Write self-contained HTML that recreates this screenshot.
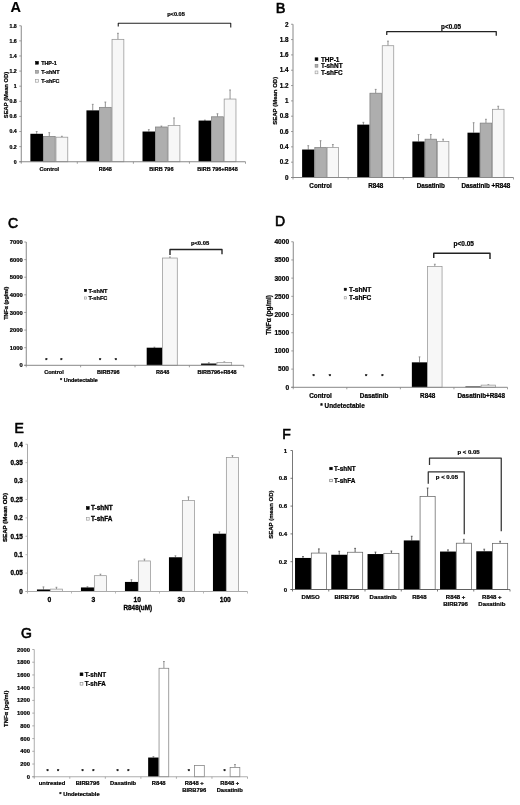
<!DOCTYPE html>
<html lang="en"><head><meta charset="utf-8"><title>Figure</title>
<style>html,body{margin:0;padding:0;background:#fff}svg{display:block;filter:blur(0.4px)}text{font-family:'Liberation Sans', Arial, sans-serif}</style></head><body>
<svg width="520" height="805" viewBox="0 0 520 805">
<rect width="520" height="805" fill="#fff"/>
<g id="panel-A">
<text x="10.50" y="12.00" font-size="14.5" text-anchor="start" font-weight="bold" fill="#000" stroke="#000" stroke-width="0.12">A</text>
<line x1="36.68" y1="133.79" x2="36.68" y2="131.53" stroke="#808080" stroke-width="0.85"/>
<line x1="35.78" y1="131.53" x2="37.58" y2="131.53" stroke="#808080" stroke-width="0.8"/>
<rect x="30.38" y="133.79" width="12.60" height="27.96" fill="#000"/>
<line x1="49.28" y1="136.44" x2="49.28" y2="132.66" stroke="#808080" stroke-width="0.85"/>
<line x1="48.38" y1="132.66" x2="50.18" y2="132.66" stroke="#808080" stroke-width="0.8"/>
<rect x="43.38" y="136.44" width="11.80" height="25.31" fill="#aeaeae" stroke="#808080" stroke-width="0.75"/>
<line x1="61.88" y1="137.19" x2="61.88" y2="136.29" stroke="#808080" stroke-width="0.85"/>
<line x1="60.98" y1="136.29" x2="62.78" y2="136.29" stroke="#808080" stroke-width="0.8"/>
<rect x="55.98" y="137.19" width="11.80" height="24.56" fill="#f7f7f7" stroke="#969696" stroke-width="0.75"/>
<text x="49.28" y="170.80" font-size="5.5" text-anchor="middle" font-weight="bold" fill="#000" stroke="#000" stroke-width="0.22">Control</text>
<line x1="92.74" y1="110.37" x2="92.74" y2="104.33" stroke="#808080" stroke-width="0.85"/>
<line x1="91.84" y1="104.33" x2="93.64" y2="104.33" stroke="#808080" stroke-width="0.8"/>
<rect x="86.44" y="110.37" width="12.60" height="51.38" fill="#000"/>
<line x1="105.34" y1="107.35" x2="105.34" y2="102.06" stroke="#808080" stroke-width="0.85"/>
<line x1="104.44" y1="102.06" x2="106.24" y2="102.06" stroke="#808080" stroke-width="0.8"/>
<rect x="99.44" y="107.35" width="11.80" height="54.40" fill="#aeaeae" stroke="#808080" stroke-width="0.75"/>
<line x1="117.94" y1="39.35" x2="117.94" y2="33.31" stroke="#808080" stroke-width="0.85"/>
<line x1="117.04" y1="33.31" x2="118.84" y2="33.31" stroke="#808080" stroke-width="0.8"/>
<rect x="112.04" y="39.35" width="11.80" height="122.40" fill="#f7f7f7" stroke="#969696" stroke-width="0.75"/>
<text x="105.34" y="170.80" font-size="5.5" text-anchor="middle" font-weight="bold" fill="#000" stroke="#000" stroke-width="0.22">R848</text>
<line x1="148.81" y1="131.53" x2="148.81" y2="129.64" stroke="#808080" stroke-width="0.85"/>
<line x1="147.91" y1="129.64" x2="149.71" y2="129.64" stroke="#808080" stroke-width="0.8"/>
<rect x="142.51" y="131.53" width="12.60" height="30.22" fill="#000"/>
<line x1="161.41" y1="126.99" x2="161.41" y2="126.09" stroke="#808080" stroke-width="0.85"/>
<line x1="160.51" y1="126.09" x2="162.31" y2="126.09" stroke="#808080" stroke-width="0.8"/>
<rect x="155.51" y="126.99" width="11.80" height="34.76" fill="#aeaeae" stroke="#808080" stroke-width="0.75"/>
<line x1="174.01" y1="125.48" x2="174.01" y2="117.93" stroke="#808080" stroke-width="0.85"/>
<line x1="173.11" y1="117.93" x2="174.91" y2="117.93" stroke="#808080" stroke-width="0.8"/>
<rect x="168.11" y="125.48" width="11.80" height="36.27" fill="#f7f7f7" stroke="#969696" stroke-width="0.75"/>
<text x="161.41" y="170.80" font-size="5.5" text-anchor="middle" font-weight="bold" fill="#000" stroke="#000" stroke-width="0.22">BIRB 796</text>
<line x1="204.87" y1="120.57" x2="204.87" y2="120.12" stroke="#808080" stroke-width="0.85"/>
<line x1="203.97" y1="120.12" x2="205.77" y2="120.12" stroke="#808080" stroke-width="0.8"/>
<rect x="198.57" y="120.57" width="12.60" height="41.18" fill="#000"/>
<line x1="217.47" y1="116.79" x2="217.47" y2="113.77" stroke="#808080" stroke-width="0.85"/>
<line x1="216.57" y1="113.77" x2="218.37" y2="113.77" stroke="#808080" stroke-width="0.8"/>
<rect x="211.57" y="116.79" width="11.80" height="44.96" fill="#aeaeae" stroke="#808080" stroke-width="0.75"/>
<line x1="230.07" y1="99.04" x2="230.07" y2="89.97" stroke="#808080" stroke-width="0.85"/>
<line x1="229.17" y1="89.97" x2="230.97" y2="89.97" stroke="#808080" stroke-width="0.8"/>
<rect x="224.17" y="99.04" width="11.80" height="62.71" fill="#f7f7f7" stroke="#969696" stroke-width="0.75"/>
<text x="217.47" y="170.80" font-size="5.5" text-anchor="middle" font-weight="bold" fill="#000" stroke="#000" stroke-width="0.22">BIRB 796+R848</text>
<line x1="21.25" y1="25.75" x2="21.25" y2="162.25" stroke="#888" stroke-width="1"/>
<line x1="19.25" y1="161.75" x2="245.50" y2="161.75" stroke="#888" stroke-width="1"/>
<line x1="21.25" y1="161.75" x2="21.25" y2="163.75" stroke="#888" stroke-width="0.8"/>
<line x1="77.31" y1="161.75" x2="77.31" y2="163.75" stroke="#888" stroke-width="0.8"/>
<line x1="133.38" y1="161.75" x2="133.38" y2="163.75" stroke="#888" stroke-width="0.8"/>
<line x1="189.44" y1="161.75" x2="189.44" y2="163.75" stroke="#888" stroke-width="0.8"/>
<line x1="245.50" y1="161.75" x2="245.50" y2="163.75" stroke="#888" stroke-width="0.8"/>
<line x1="19.25" y1="161.75" x2="21.25" y2="161.75" stroke="#888" stroke-width="0.8"/>
<text x="16.75" y="163.62" font-size="5.2" text-anchor="end" font-weight="bold" fill="#000" stroke="#000" stroke-width="0.22">0</text>
<line x1="19.25" y1="146.64" x2="21.25" y2="146.64" stroke="#888" stroke-width="0.8"/>
<text x="16.75" y="148.51" font-size="5.2" text-anchor="end" font-weight="bold" fill="#000" stroke="#000" stroke-width="0.22">0.2</text>
<line x1="19.25" y1="131.53" x2="21.25" y2="131.53" stroke="#888" stroke-width="0.8"/>
<text x="16.75" y="133.40" font-size="5.2" text-anchor="end" font-weight="bold" fill="#000" stroke="#000" stroke-width="0.22">0.4</text>
<line x1="19.25" y1="116.42" x2="21.25" y2="116.42" stroke="#888" stroke-width="0.8"/>
<text x="16.75" y="118.29" font-size="5.2" text-anchor="end" font-weight="bold" fill="#000" stroke="#000" stroke-width="0.22">0.6</text>
<line x1="19.25" y1="101.31" x2="21.25" y2="101.31" stroke="#888" stroke-width="0.8"/>
<text x="16.75" y="103.18" font-size="5.2" text-anchor="end" font-weight="bold" fill="#000" stroke="#000" stroke-width="0.22">0.8</text>
<line x1="19.25" y1="86.19" x2="21.25" y2="86.19" stroke="#888" stroke-width="0.8"/>
<text x="16.75" y="88.07" font-size="5.2" text-anchor="end" font-weight="bold" fill="#000" stroke="#000" stroke-width="0.22">1</text>
<line x1="19.25" y1="71.08" x2="21.25" y2="71.08" stroke="#888" stroke-width="0.8"/>
<text x="16.75" y="72.96" font-size="5.2" text-anchor="end" font-weight="bold" fill="#000" stroke="#000" stroke-width="0.22">1.2</text>
<line x1="19.25" y1="55.97" x2="21.25" y2="55.97" stroke="#888" stroke-width="0.8"/>
<text x="16.75" y="57.84" font-size="5.2" text-anchor="end" font-weight="bold" fill="#000" stroke="#000" stroke-width="0.22">1.4</text>
<line x1="19.25" y1="40.86" x2="21.25" y2="40.86" stroke="#888" stroke-width="0.8"/>
<text x="16.75" y="42.73" font-size="5.2" text-anchor="end" font-weight="bold" fill="#000" stroke="#000" stroke-width="0.22">1.6</text>
<line x1="19.25" y1="25.75" x2="21.25" y2="25.75" stroke="#888" stroke-width="0.8"/>
<text x="16.75" y="27.62" font-size="5.2" text-anchor="end" font-weight="bold" fill="#000" stroke="#000" stroke-width="0.22">1.8</text>
<text x="7.60" y="95.00" font-size="5.8" text-anchor="middle" font-weight="bold" fill="#000" stroke="#000" stroke-width="0.22" transform="rotate(-90 7.60 95.00)">SEAP (Mean OD)</text>
<rect x="35.60" y="61.40" width="2.80" height="2.80" fill="#000" stroke="#000" stroke-width="0.6"/>
<text x="41.20" y="64.74" font-size="5.4" text-anchor="start" font-weight="bold" fill="#000" stroke="#000" stroke-width="0.22">THP-1</text>
<rect x="35.60" y="70.40" width="2.80" height="2.80" fill="#aeaeae" stroke="#808080" stroke-width="0.6"/>
<text x="41.20" y="73.74" font-size="5.4" text-anchor="start" font-weight="bold" fill="#000" stroke="#000" stroke-width="0.22">T-shNT</text>
<rect x="35.60" y="79.40" width="2.80" height="2.80" fill="#f7f7f7" stroke="#969696" stroke-width="0.6"/>
<text x="41.20" y="82.74" font-size="5.4" text-anchor="start" font-weight="bold" fill="#000" stroke="#000" stroke-width="0.22">T-shFC</text>
<polyline points="118.25,26.50 118.25,23.25 230.75,23.25 230.75,27.50" fill="none" stroke="#222" stroke-width="1.1" stroke-linejoin="round"/>
<text x="176.00" y="16.02" font-size="5.6" text-anchor="middle" font-weight="bold" fill="#000" stroke="#000" stroke-width="0.22">p&lt;0.05</text>
</g>
<g id="panel-B">
<text x="275.80" y="13.40" font-size="14.5" text-anchor="start" font-weight="normal" fill="#000" stroke="#000" stroke-width="0.6">B</text>
<line x1="308.26" y1="149.53" x2="308.26" y2="145.70" stroke="#808080" stroke-width="0.85"/>
<line x1="307.36" y1="145.70" x2="309.16" y2="145.70" stroke="#808080" stroke-width="0.8"/>
<rect x="302.11" y="149.53" width="12.30" height="27.97" fill="#000"/>
<line x1="320.56" y1="147.62" x2="320.56" y2="140.72" stroke="#808080" stroke-width="0.85"/>
<line x1="319.66" y1="140.72" x2="321.46" y2="140.72" stroke="#808080" stroke-width="0.8"/>
<rect x="314.81" y="147.62" width="11.50" height="29.88" fill="#aeaeae" stroke="#808080" stroke-width="0.75"/>
<line x1="332.86" y1="147.62" x2="332.86" y2="144.55" stroke="#808080" stroke-width="0.85"/>
<line x1="331.96" y1="144.55" x2="333.76" y2="144.55" stroke="#808080" stroke-width="0.8"/>
<rect x="327.11" y="147.62" width="11.50" height="29.88" fill="#f7f7f7" stroke="#969696" stroke-width="0.75"/>
<text x="320.56" y="187.50" font-size="6.3" text-anchor="middle" font-weight="bold" fill="#000" stroke="#000" stroke-width="0.22">Control</text>
<line x1="363.39" y1="124.63" x2="363.39" y2="122.33" stroke="#808080" stroke-width="0.85"/>
<line x1="362.49" y1="122.33" x2="364.29" y2="122.33" stroke="#808080" stroke-width="0.8"/>
<rect x="357.24" y="124.63" width="12.30" height="52.87" fill="#000"/>
<line x1="375.69" y1="93.21" x2="375.69" y2="89.38" stroke="#808080" stroke-width="0.85"/>
<line x1="374.79" y1="89.38" x2="376.59" y2="89.38" stroke="#808080" stroke-width="0.8"/>
<rect x="369.94" y="93.21" width="11.50" height="84.29" fill="#aeaeae" stroke="#808080" stroke-width="0.75"/>
<line x1="387.99" y1="45.71" x2="387.99" y2="41.11" stroke="#808080" stroke-width="0.85"/>
<line x1="387.09" y1="41.11" x2="388.89" y2="41.11" stroke="#808080" stroke-width="0.8"/>
<rect x="382.24" y="45.71" width="11.50" height="131.79" fill="#f7f7f7" stroke="#969696" stroke-width="0.75"/>
<text x="375.69" y="187.50" font-size="6.3" text-anchor="middle" font-weight="bold" fill="#000" stroke="#000" stroke-width="0.22">R848</text>
<line x1="418.51" y1="141.49" x2="418.51" y2="134.59" stroke="#808080" stroke-width="0.85"/>
<line x1="417.61" y1="134.59" x2="419.41" y2="134.59" stroke="#808080" stroke-width="0.8"/>
<rect x="412.36" y="141.49" width="12.30" height="36.01" fill="#000"/>
<line x1="430.81" y1="139.19" x2="430.81" y2="134.59" stroke="#808080" stroke-width="0.85"/>
<line x1="429.91" y1="134.59" x2="431.71" y2="134.59" stroke="#808080" stroke-width="0.8"/>
<rect x="425.06" y="139.19" width="11.50" height="38.31" fill="#aeaeae" stroke="#808080" stroke-width="0.75"/>
<line x1="443.11" y1="141.49" x2="443.11" y2="139.19" stroke="#808080" stroke-width="0.85"/>
<line x1="442.21" y1="139.19" x2="444.01" y2="139.19" stroke="#808080" stroke-width="0.8"/>
<rect x="437.36" y="141.49" width="11.50" height="36.01" fill="#f7f7f7" stroke="#969696" stroke-width="0.75"/>
<text x="430.81" y="187.50" font-size="6.3" text-anchor="middle" font-weight="bold" fill="#000" stroke="#000" stroke-width="0.22">Dasatinib</text>
<line x1="473.64" y1="132.67" x2="473.64" y2="122.71" stroke="#808080" stroke-width="0.85"/>
<line x1="472.74" y1="122.71" x2="474.54" y2="122.71" stroke="#808080" stroke-width="0.8"/>
<rect x="467.49" y="132.67" width="12.30" height="44.83" fill="#000"/>
<line x1="485.94" y1="123.10" x2="485.94" y2="119.27" stroke="#808080" stroke-width="0.85"/>
<line x1="485.04" y1="119.27" x2="486.84" y2="119.27" stroke="#808080" stroke-width="0.8"/>
<rect x="480.19" y="123.10" width="11.50" height="54.40" fill="#aeaeae" stroke="#808080" stroke-width="0.75"/>
<line x1="498.24" y1="109.30" x2="498.24" y2="106.24" stroke="#808080" stroke-width="0.85"/>
<line x1="497.34" y1="106.24" x2="499.14" y2="106.24" stroke="#808080" stroke-width="0.8"/>
<rect x="492.49" y="109.30" width="11.50" height="68.20" fill="#f7f7f7" stroke="#969696" stroke-width="0.75"/>
<text x="485.94" y="187.50" font-size="6.3" text-anchor="middle" font-weight="bold" fill="#000" stroke="#000" stroke-width="0.22">Dasatinib +R848</text>
<line x1="293.00" y1="24.25" x2="293.00" y2="178.00" stroke="#888" stroke-width="1"/>
<line x1="291.00" y1="177.50" x2="513.50" y2="177.50" stroke="#888" stroke-width="1"/>
<line x1="293.00" y1="177.50" x2="293.00" y2="179.50" stroke="#888" stroke-width="0.8"/>
<line x1="348.12" y1="177.50" x2="348.12" y2="179.50" stroke="#888" stroke-width="0.8"/>
<line x1="403.25" y1="177.50" x2="403.25" y2="179.50" stroke="#888" stroke-width="0.8"/>
<line x1="458.38" y1="177.50" x2="458.38" y2="179.50" stroke="#888" stroke-width="0.8"/>
<line x1="513.50" y1="177.50" x2="513.50" y2="179.50" stroke="#888" stroke-width="0.8"/>
<line x1="291.00" y1="177.50" x2="293.00" y2="177.50" stroke="#888" stroke-width="0.8"/>
<text x="288.50" y="179.77" font-size="6.3" text-anchor="end" font-weight="bold" fill="#000" stroke="#000" stroke-width="0.22">0</text>
<line x1="291.00" y1="162.18" x2="293.00" y2="162.18" stroke="#888" stroke-width="0.8"/>
<text x="288.50" y="164.44" font-size="6.3" text-anchor="end" font-weight="bold" fill="#000" stroke="#000" stroke-width="0.22">0.2</text>
<line x1="291.00" y1="146.85" x2="293.00" y2="146.85" stroke="#888" stroke-width="0.8"/>
<text x="288.50" y="149.12" font-size="6.3" text-anchor="end" font-weight="bold" fill="#000" stroke="#000" stroke-width="0.22">0.4</text>
<line x1="291.00" y1="131.52" x2="293.00" y2="131.52" stroke="#888" stroke-width="0.8"/>
<text x="288.50" y="133.79" font-size="6.3" text-anchor="end" font-weight="bold" fill="#000" stroke="#000" stroke-width="0.22">0.6</text>
<line x1="291.00" y1="116.20" x2="293.00" y2="116.20" stroke="#888" stroke-width="0.8"/>
<text x="288.50" y="118.47" font-size="6.3" text-anchor="end" font-weight="bold" fill="#000" stroke="#000" stroke-width="0.22">0.8</text>
<line x1="291.00" y1="100.88" x2="293.00" y2="100.88" stroke="#888" stroke-width="0.8"/>
<text x="288.50" y="103.14" font-size="6.3" text-anchor="end" font-weight="bold" fill="#000" stroke="#000" stroke-width="0.22">1</text>
<line x1="291.00" y1="85.55" x2="293.00" y2="85.55" stroke="#888" stroke-width="0.8"/>
<text x="288.50" y="87.82" font-size="6.3" text-anchor="end" font-weight="bold" fill="#000" stroke="#000" stroke-width="0.22">1.2</text>
<line x1="291.00" y1="70.22" x2="293.00" y2="70.22" stroke="#888" stroke-width="0.8"/>
<text x="288.50" y="72.49" font-size="6.3" text-anchor="end" font-weight="bold" fill="#000" stroke="#000" stroke-width="0.22">1.4</text>
<line x1="291.00" y1="54.90" x2="293.00" y2="54.90" stroke="#888" stroke-width="0.8"/>
<text x="288.50" y="57.17" font-size="6.3" text-anchor="end" font-weight="bold" fill="#000" stroke="#000" stroke-width="0.22">1.6</text>
<line x1="291.00" y1="39.57" x2="293.00" y2="39.57" stroke="#888" stroke-width="0.8"/>
<text x="288.50" y="41.84" font-size="6.3" text-anchor="end" font-weight="bold" fill="#000" stroke="#000" stroke-width="0.22">1.8</text>
<line x1="291.00" y1="24.25" x2="293.00" y2="24.25" stroke="#888" stroke-width="0.8"/>
<text x="288.50" y="26.52" font-size="6.3" text-anchor="end" font-weight="bold" fill="#000" stroke="#000" stroke-width="0.22">2</text>
<text x="276.70" y="100.80" font-size="6.0" text-anchor="middle" font-weight="bold" fill="#000" stroke="#000" stroke-width="0.22" transform="rotate(-90 276.70 100.80)">SEAP (Mean OD)</text>
<rect x="315.10" y="57.80" width="2.80" height="2.80" fill="#000" stroke="#000" stroke-width="0.6"/>
<text x="320.90" y="61.50" font-size="6.4" text-anchor="start" font-weight="bold" fill="#000" stroke="#000" stroke-width="0.22">THP-1</text>
<rect x="315.10" y="64.40" width="2.80" height="2.80" fill="#aeaeae" stroke="#808080" stroke-width="0.6"/>
<text x="320.90" y="68.10" font-size="6.4" text-anchor="start" font-weight="bold" fill="#000" stroke="#000" stroke-width="0.22">T-shNT</text>
<rect x="315.10" y="71.00" width="2.80" height="2.80" fill="#f7f7f7" stroke="#969696" stroke-width="0.6"/>
<text x="320.90" y="74.70" font-size="6.4" text-anchor="start" font-weight="bold" fill="#000" stroke="#000" stroke-width="0.22">T-shFC</text>
<polyline points="386.75,35.00 386.75,31.50 496.25,31.50 496.25,35.75" fill="none" stroke="#222" stroke-width="1.25" stroke-linejoin="round"/>
<text x="451.00" y="28.67" font-size="6.3" text-anchor="middle" font-weight="bold" fill="#000" stroke="#000" stroke-width="0.22">p&lt;0.05</text>
</g>
<g id="panel-C">
<text x="8.00" y="228.30" font-size="14" text-anchor="start" font-weight="normal" fill="#000" stroke="#000" stroke-width="0.6">C</text>
<text x="53.94" y="374.40" font-size="5.5" text-anchor="middle" font-weight="bold" fill="#000" stroke="#000" stroke-width="0.22">Control</text>
<text x="108.31" y="374.40" font-size="5.5" text-anchor="middle" font-weight="bold" fill="#000" stroke="#000" stroke-width="0.22">BIRB796</text>
<line x1="154.44" y1="347.69" x2="154.44" y2="347.16" stroke="#808080" stroke-width="0.85"/>
<line x1="153.54" y1="347.16" x2="155.34" y2="347.16" stroke="#808080" stroke-width="0.8"/>
<rect x="146.69" y="347.69" width="15.50" height="17.61" fill="#000"/>
<line x1="169.94" y1="258.03" x2="169.94" y2="256.97" stroke="#808080" stroke-width="0.85"/>
<line x1="169.04" y1="256.97" x2="170.84" y2="256.97" stroke="#808080" stroke-width="0.8"/>
<rect x="162.59" y="258.03" width="14.70" height="107.27" fill="#f7f7f7" stroke="#969696" stroke-width="0.75"/>
<text x="162.69" y="374.40" font-size="5.5" text-anchor="middle" font-weight="bold" fill="#000" stroke="#000" stroke-width="0.22">R848</text>
<line x1="208.81" y1="363.54" x2="208.81" y2="362.66" stroke="#808080" stroke-width="0.85"/>
<line x1="207.91" y1="362.66" x2="209.71" y2="362.66" stroke="#808080" stroke-width="0.8"/>
<rect x="201.06" y="363.54" width="15.50" height="1.76" fill="#000"/>
<line x1="224.31" y1="362.39" x2="224.31" y2="361.87" stroke="#808080" stroke-width="0.85"/>
<line x1="223.41" y1="361.87" x2="225.21" y2="361.87" stroke="#808080" stroke-width="0.8"/>
<rect x="216.96" y="362.39" width="14.70" height="2.91" fill="#f7f7f7" stroke="#969696" stroke-width="0.75"/>
<text x="217.06" y="374.40" font-size="5.5" text-anchor="middle" font-weight="bold" fill="#000" stroke="#000" stroke-width="0.22">BIRB796+R848</text>
<line x1="26.25" y1="242.00" x2="26.25" y2="365.80" stroke="#888" stroke-width="1"/>
<line x1="24.25" y1="365.30" x2="243.75" y2="365.30" stroke="#888" stroke-width="1"/>
<line x1="26.25" y1="365.30" x2="26.25" y2="367.30" stroke="#888" stroke-width="0.8"/>
<line x1="80.62" y1="365.30" x2="80.62" y2="367.30" stroke="#888" stroke-width="0.8"/>
<line x1="135.00" y1="365.30" x2="135.00" y2="367.30" stroke="#888" stroke-width="0.8"/>
<line x1="189.38" y1="365.30" x2="189.38" y2="367.30" stroke="#888" stroke-width="0.8"/>
<line x1="243.75" y1="365.30" x2="243.75" y2="367.30" stroke="#888" stroke-width="0.8"/>
<line x1="24.25" y1="365.30" x2="26.25" y2="365.30" stroke="#888" stroke-width="0.8"/>
<text x="22.75" y="367.39" font-size="5.8" text-anchor="end" font-weight="bold" fill="#000" stroke="#000" stroke-width="0.22">0</text>
<line x1="24.25" y1="347.69" x2="26.25" y2="347.69" stroke="#888" stroke-width="0.8"/>
<text x="22.75" y="349.77" font-size="5.8" text-anchor="end" font-weight="bold" fill="#000" stroke="#000" stroke-width="0.22">1000</text>
<line x1="24.25" y1="330.07" x2="26.25" y2="330.07" stroke="#888" stroke-width="0.8"/>
<text x="22.75" y="332.16" font-size="5.8" text-anchor="end" font-weight="bold" fill="#000" stroke="#000" stroke-width="0.22">2000</text>
<line x1="24.25" y1="312.46" x2="26.25" y2="312.46" stroke="#888" stroke-width="0.8"/>
<text x="22.75" y="314.55" font-size="5.8" text-anchor="end" font-weight="bold" fill="#000" stroke="#000" stroke-width="0.22">3000</text>
<line x1="24.25" y1="294.84" x2="26.25" y2="294.84" stroke="#888" stroke-width="0.8"/>
<text x="22.75" y="296.93" font-size="5.8" text-anchor="end" font-weight="bold" fill="#000" stroke="#000" stroke-width="0.22">4000</text>
<line x1="24.25" y1="277.23" x2="26.25" y2="277.23" stroke="#888" stroke-width="0.8"/>
<text x="22.75" y="279.32" font-size="5.8" text-anchor="end" font-weight="bold" fill="#000" stroke="#000" stroke-width="0.22">5000</text>
<line x1="24.25" y1="259.61" x2="26.25" y2="259.61" stroke="#888" stroke-width="0.8"/>
<text x="22.75" y="261.70" font-size="5.8" text-anchor="end" font-weight="bold" fill="#000" stroke="#000" stroke-width="0.22">6000</text>
<line x1="24.25" y1="242.00" x2="26.25" y2="242.00" stroke="#888" stroke-width="0.8"/>
<text x="22.75" y="244.09" font-size="5.8" text-anchor="end" font-weight="bold" fill="#000" stroke="#000" stroke-width="0.22">7000</text>
<text x="7.90" y="303.30" font-size="5.35" text-anchor="middle" font-weight="bold" fill="#000" stroke="#000" stroke-width="0.22" transform="rotate(-90 7.90 303.30)">TNFα (pg/ml)</text>
<rect x="84.40" y="289.40" width="2.20" height="2.20" fill="#000" stroke="#000" stroke-width="0.6"/>
<text x="88.40" y="292.52" font-size="5.6" text-anchor="start" font-weight="bold" fill="#000" stroke="#000" stroke-width="0.22">T-shNT</text>
<rect x="84.40" y="296.90" width="2.20" height="2.20" fill="#f7f7f7" stroke="#969696" stroke-width="0.6"/>
<text x="88.40" y="300.02" font-size="5.6" text-anchor="start" font-weight="bold" fill="#000" stroke="#000" stroke-width="0.22">T-shFC</text>
<text x="46.25" y="361.89" font-size="5.5" text-anchor="middle" font-weight="bold" fill="#000" stroke="#000" stroke-width="0.22">*</text>
<text x="61.25" y="361.89" font-size="5.5" text-anchor="middle" font-weight="bold" fill="#000" stroke="#000" stroke-width="0.22">*</text>
<text x="100.00" y="361.89" font-size="5.5" text-anchor="middle" font-weight="bold" fill="#000" stroke="#000" stroke-width="0.22">*</text>
<text x="115.75" y="361.89" font-size="5.5" text-anchor="middle" font-weight="bold" fill="#000" stroke="#000" stroke-width="0.22">*</text>
<polyline points="170.00,255.00 170.00,249.50 222.00,249.50 222.00,254.25" fill="none" stroke="#222" stroke-width="1.35" stroke-linejoin="round"/>
<text x="200.00" y="244.59" font-size="5.8" text-anchor="middle" font-weight="bold" fill="#000" stroke="#000" stroke-width="0.22">p&lt;0.05</text>
<text x="79.00" y="382.16" font-size="5.45" text-anchor="middle" font-weight="bold" fill="#000" stroke="#000" stroke-width="0.22">* Undetectable</text>
</g>
<g id="panel-D">
<text x="275.00" y="225.70" font-size="14" text-anchor="start" font-weight="normal" fill="#000" stroke="#000" stroke-width="0.6">D</text>
<text x="320.53" y="398.20" font-size="6.35" text-anchor="middle" font-weight="bold" fill="#000" stroke="#000" stroke-width="0.22">Control</text>
<text x="374.09" y="398.20" font-size="6.35" text-anchor="middle" font-weight="bold" fill="#000" stroke="#000" stroke-width="0.22">Dasatinib</text>
<line x1="419.51" y1="362.34" x2="419.51" y2="356.88" stroke="#808080" stroke-width="0.85"/>
<line x1="418.61" y1="356.88" x2="420.41" y2="356.88" stroke="#808080" stroke-width="0.8"/>
<rect x="411.86" y="362.34" width="15.30" height="24.96" fill="#000"/>
<line x1="434.81" y1="266.42" x2="434.81" y2="264.24" stroke="#808080" stroke-width="0.85"/>
<line x1="433.91" y1="264.24" x2="435.71" y2="264.24" stroke="#808080" stroke-width="0.8"/>
<rect x="427.56" y="266.42" width="14.50" height="120.88" fill="#f7f7f7" stroke="#969696" stroke-width="0.75"/>
<text x="427.66" y="398.20" font-size="6.35" text-anchor="middle" font-weight="bold" fill="#000" stroke="#000" stroke-width="0.22">R848</text>
<rect x="465.42" y="386.50" width="15.30" height="0.80" fill="#000"/>
<line x1="488.37" y1="385.12" x2="488.37" y2="384.68" stroke="#808080" stroke-width="0.85"/>
<line x1="487.47" y1="384.68" x2="489.27" y2="384.68" stroke="#808080" stroke-width="0.8"/>
<rect x="481.12" y="385.12" width="14.50" height="2.18" fill="#f7f7f7" stroke="#969696" stroke-width="0.75"/>
<text x="481.22" y="398.20" font-size="6.35" text-anchor="middle" font-weight="bold" fill="#000" stroke="#000" stroke-width="0.22">Dasatinib+R848</text>
<line x1="293.25" y1="241.75" x2="293.25" y2="387.80" stroke="#888" stroke-width="1"/>
<line x1="291.25" y1="387.30" x2="507.50" y2="387.30" stroke="#888" stroke-width="1"/>
<line x1="293.25" y1="387.30" x2="293.25" y2="389.30" stroke="#888" stroke-width="0.8"/>
<line x1="346.81" y1="387.30" x2="346.81" y2="389.30" stroke="#888" stroke-width="0.8"/>
<line x1="400.38" y1="387.30" x2="400.38" y2="389.30" stroke="#888" stroke-width="0.8"/>
<line x1="453.94" y1="387.30" x2="453.94" y2="389.30" stroke="#888" stroke-width="0.8"/>
<line x1="507.50" y1="387.30" x2="507.50" y2="389.30" stroke="#888" stroke-width="0.8"/>
<line x1="291.25" y1="387.30" x2="293.25" y2="387.30" stroke="#888" stroke-width="0.8"/>
<text x="289.05" y="389.68" font-size="6.6" text-anchor="end" font-weight="bold" fill="#000" stroke="#000" stroke-width="0.22">0</text>
<line x1="291.25" y1="369.11" x2="293.25" y2="369.11" stroke="#888" stroke-width="0.8"/>
<text x="289.05" y="371.48" font-size="6.6" text-anchor="end" font-weight="bold" fill="#000" stroke="#000" stroke-width="0.22">500</text>
<line x1="291.25" y1="350.91" x2="293.25" y2="350.91" stroke="#888" stroke-width="0.8"/>
<text x="289.05" y="353.29" font-size="6.6" text-anchor="end" font-weight="bold" fill="#000" stroke="#000" stroke-width="0.22">1000</text>
<line x1="291.25" y1="332.72" x2="293.25" y2="332.72" stroke="#888" stroke-width="0.8"/>
<text x="289.05" y="335.09" font-size="6.6" text-anchor="end" font-weight="bold" fill="#000" stroke="#000" stroke-width="0.22">1500</text>
<line x1="291.25" y1="314.52" x2="293.25" y2="314.52" stroke="#888" stroke-width="0.8"/>
<text x="289.05" y="316.90" font-size="6.6" text-anchor="end" font-weight="bold" fill="#000" stroke="#000" stroke-width="0.22">2000</text>
<line x1="291.25" y1="296.33" x2="293.25" y2="296.33" stroke="#888" stroke-width="0.8"/>
<text x="289.05" y="298.71" font-size="6.6" text-anchor="end" font-weight="bold" fill="#000" stroke="#000" stroke-width="0.22">2500</text>
<line x1="291.25" y1="278.14" x2="293.25" y2="278.14" stroke="#888" stroke-width="0.8"/>
<text x="289.05" y="280.51" font-size="6.6" text-anchor="end" font-weight="bold" fill="#000" stroke="#000" stroke-width="0.22">3000</text>
<line x1="291.25" y1="259.94" x2="293.25" y2="259.94" stroke="#888" stroke-width="0.8"/>
<text x="289.05" y="262.32" font-size="6.6" text-anchor="end" font-weight="bold" fill="#000" stroke="#000" stroke-width="0.22">3500</text>
<line x1="291.25" y1="241.75" x2="293.25" y2="241.75" stroke="#888" stroke-width="0.8"/>
<text x="289.05" y="244.13" font-size="6.6" text-anchor="end" font-weight="bold" fill="#000" stroke="#000" stroke-width="0.22">4000</text>
<text x="270.80" y="315.00" font-size="6.45" text-anchor="middle" font-weight="bold" fill="#000" stroke="#000" stroke-width="0.22" transform="rotate(-90 270.80 315.00)">TNFα (pg/ml)</text>
<rect x="344.20" y="288.20" width="2.20" height="2.20" fill="#000" stroke="#000" stroke-width="0.6"/>
<text x="349.00" y="291.68" font-size="6.6" text-anchor="start" font-weight="bold" fill="#000" stroke="#000" stroke-width="0.22">T-shNT</text>
<rect x="344.20" y="296.70" width="2.20" height="2.20" fill="#f7f7f7" stroke="#969696" stroke-width="0.6"/>
<text x="349.00" y="300.18" font-size="6.6" text-anchor="start" font-weight="bold" fill="#000" stroke="#000" stroke-width="0.22">T-shFC</text>
<text x="313.75" y="377.65" font-size="5.8" text-anchor="middle" font-weight="bold" fill="#000" stroke="#000" stroke-width="0.22">*</text>
<text x="330.00" y="377.65" font-size="5.8" text-anchor="middle" font-weight="bold" fill="#000" stroke="#000" stroke-width="0.22">*</text>
<text x="366.25" y="377.65" font-size="5.8" text-anchor="middle" font-weight="bold" fill="#000" stroke="#000" stroke-width="0.22">*</text>
<text x="382.50" y="377.65" font-size="5.8" text-anchor="middle" font-weight="bold" fill="#000" stroke="#000" stroke-width="0.22">*</text>
<polyline points="433.75,258.00 433.75,253.30 490.00,253.30 490.00,259.00" fill="none" stroke="#222" stroke-width="1.45" stroke-linejoin="round"/>
<text x="463.75" y="246.24" font-size="6.5" text-anchor="middle" font-weight="bold" fill="#000" stroke="#000" stroke-width="0.22">p&lt;0.05</text>
<text x="342.50" y="407.50" font-size="6.4" text-anchor="middle" font-weight="bold" fill="#000" stroke="#000" stroke-width="0.22">* Undetectable</text>
</g>
<g id="panel-E">
<text x="14.60" y="433.30" font-size="14" text-anchor="start" font-weight="normal" fill="#000" stroke="#000" stroke-width="0.6">E</text>
<line x1="43.45" y1="589.48" x2="43.45" y2="586.90" stroke="#808080" stroke-width="0.85"/>
<line x1="42.55" y1="586.90" x2="44.35" y2="586.90" stroke="#808080" stroke-width="0.8"/>
<rect x="36.95" y="589.48" width="13.00" height="2.02" fill="#000"/>
<line x1="56.45" y1="589.11" x2="56.45" y2="587.27" stroke="#808080" stroke-width="0.85"/>
<line x1="55.55" y1="587.27" x2="57.35" y2="587.27" stroke="#808080" stroke-width="0.8"/>
<rect x="50.35" y="589.11" width="12.20" height="2.39" fill="#f7f7f7" stroke="#969696" stroke-width="0.75"/>
<text x="49.25" y="601.50" font-size="6.7" text-anchor="middle" font-weight="bold" fill="#000" stroke="#000" stroke-width="0.3">0</text>
<line x1="87.45" y1="587.45" x2="87.45" y2="586.71" stroke="#808080" stroke-width="0.85"/>
<line x1="86.55" y1="586.71" x2="88.35" y2="586.71" stroke="#808080" stroke-width="0.8"/>
<rect x="80.95" y="587.45" width="13.00" height="4.05" fill="#000"/>
<line x1="100.45" y1="575.67" x2="100.45" y2="574.20" stroke="#808080" stroke-width="0.85"/>
<line x1="99.55" y1="574.20" x2="101.35" y2="574.20" stroke="#808080" stroke-width="0.8"/>
<rect x="94.35" y="575.67" width="12.20" height="15.83" fill="#f7f7f7" stroke="#969696" stroke-width="0.75"/>
<text x="93.25" y="601.50" font-size="6.7" text-anchor="middle" font-weight="bold" fill="#000" stroke="#000" stroke-width="0.3">3</text>
<line x1="131.45" y1="581.93" x2="131.45" y2="579.72" stroke="#808080" stroke-width="0.85"/>
<line x1="130.55" y1="579.72" x2="132.35" y2="579.72" stroke="#808080" stroke-width="0.8"/>
<rect x="124.95" y="581.93" width="13.00" height="9.57" fill="#000"/>
<line x1="144.45" y1="560.95" x2="144.45" y2="559.10" stroke="#808080" stroke-width="0.85"/>
<line x1="143.55" y1="559.10" x2="145.35" y2="559.10" stroke="#808080" stroke-width="0.8"/>
<rect x="138.35" y="560.95" width="12.20" height="30.55" fill="#f7f7f7" stroke="#969696" stroke-width="0.75"/>
<text x="137.25" y="601.50" font-size="6.7" text-anchor="middle" font-weight="bold" fill="#000" stroke="#000" stroke-width="0.3">10</text>
<line x1="175.45" y1="557.26" x2="175.45" y2="555.79" stroke="#808080" stroke-width="0.85"/>
<line x1="174.55" y1="555.79" x2="176.35" y2="555.79" stroke="#808080" stroke-width="0.8"/>
<rect x="168.95" y="557.26" width="13.00" height="34.24" fill="#000"/>
<line x1="188.45" y1="500.57" x2="188.45" y2="496.89" stroke="#808080" stroke-width="0.85"/>
<line x1="187.55" y1="496.89" x2="189.35" y2="496.89" stroke="#808080" stroke-width="0.8"/>
<rect x="182.35" y="500.57" width="12.20" height="90.93" fill="#f7f7f7" stroke="#969696" stroke-width="0.75"/>
<text x="181.25" y="601.50" font-size="6.7" text-anchor="middle" font-weight="bold" fill="#000" stroke="#000" stroke-width="0.3">30</text>
<line x1="219.45" y1="533.70" x2="219.45" y2="531.86" stroke="#808080" stroke-width="0.85"/>
<line x1="218.55" y1="531.86" x2="220.35" y2="531.86" stroke="#808080" stroke-width="0.8"/>
<rect x="212.95" y="533.70" width="13.00" height="57.80" fill="#000"/>
<line x1="232.45" y1="457.50" x2="232.45" y2="455.66" stroke="#808080" stroke-width="0.85"/>
<line x1="231.55" y1="455.66" x2="233.35" y2="455.66" stroke="#808080" stroke-width="0.8"/>
<rect x="226.35" y="457.50" width="12.20" height="134.00" fill="#f7f7f7" stroke="#969696" stroke-width="0.75"/>
<text x="225.25" y="601.50" font-size="6.7" text-anchor="middle" font-weight="bold" fill="#000" stroke="#000" stroke-width="0.3">100</text>
<line x1="27.50" y1="444.25" x2="27.50" y2="592.00" stroke="#aaa" stroke-width="1"/>
<line x1="25.50" y1="591.50" x2="247.50" y2="591.50" stroke="#aaa" stroke-width="1"/>
<line x1="27.50" y1="591.50" x2="27.50" y2="593.50" stroke="#aaa" stroke-width="0.8"/>
<line x1="71.50" y1="591.50" x2="71.50" y2="593.50" stroke="#aaa" stroke-width="0.8"/>
<line x1="115.50" y1="591.50" x2="115.50" y2="593.50" stroke="#aaa" stroke-width="0.8"/>
<line x1="159.50" y1="591.50" x2="159.50" y2="593.50" stroke="#aaa" stroke-width="0.8"/>
<line x1="203.50" y1="591.50" x2="203.50" y2="593.50" stroke="#aaa" stroke-width="0.8"/>
<line x1="247.50" y1="591.50" x2="247.50" y2="593.50" stroke="#aaa" stroke-width="0.8"/>
<line x1="25.50" y1="591.50" x2="27.50" y2="591.50" stroke="#aaa" stroke-width="0.8"/>
<text x="22.80" y="593.77" font-size="6.3" text-anchor="end" font-weight="bold" fill="#000" stroke="#000" stroke-width="0.32">0</text>
<line x1="25.50" y1="573.09" x2="27.50" y2="573.09" stroke="#aaa" stroke-width="0.8"/>
<text x="22.80" y="575.36" font-size="6.3" text-anchor="end" font-weight="bold" fill="#000" stroke="#000" stroke-width="0.32">0.05</text>
<line x1="25.50" y1="554.69" x2="27.50" y2="554.69" stroke="#aaa" stroke-width="0.8"/>
<text x="22.80" y="556.96" font-size="6.3" text-anchor="end" font-weight="bold" fill="#000" stroke="#000" stroke-width="0.32">0.1</text>
<line x1="25.50" y1="536.28" x2="27.50" y2="536.28" stroke="#aaa" stroke-width="0.8"/>
<text x="22.80" y="538.55" font-size="6.3" text-anchor="end" font-weight="bold" fill="#000" stroke="#000" stroke-width="0.32">0.15</text>
<line x1="25.50" y1="517.88" x2="27.50" y2="517.88" stroke="#aaa" stroke-width="0.8"/>
<text x="22.80" y="520.14" font-size="6.3" text-anchor="end" font-weight="bold" fill="#000" stroke="#000" stroke-width="0.32">0.2</text>
<line x1="25.50" y1="499.47" x2="27.50" y2="499.47" stroke="#aaa" stroke-width="0.8"/>
<text x="22.80" y="501.74" font-size="6.3" text-anchor="end" font-weight="bold" fill="#000" stroke="#000" stroke-width="0.32">0.25</text>
<line x1="25.50" y1="481.06" x2="27.50" y2="481.06" stroke="#aaa" stroke-width="0.8"/>
<text x="22.80" y="483.33" font-size="6.3" text-anchor="end" font-weight="bold" fill="#000" stroke="#000" stroke-width="0.32">0.3</text>
<line x1="25.50" y1="462.66" x2="27.50" y2="462.66" stroke="#aaa" stroke-width="0.8"/>
<text x="22.80" y="464.92" font-size="6.3" text-anchor="end" font-weight="bold" fill="#000" stroke="#000" stroke-width="0.32">0.35</text>
<line x1="25.50" y1="444.25" x2="27.50" y2="444.25" stroke="#aaa" stroke-width="0.8"/>
<text x="22.80" y="446.52" font-size="6.3" text-anchor="end" font-weight="bold" fill="#000" stroke="#000" stroke-width="0.32">0.4</text>
<text x="7.40" y="517.50" font-size="6.15" text-anchor="middle" font-weight="bold" fill="#000" stroke="#000" stroke-width="0.3" transform="rotate(-90 7.40 517.50)">SEAP (Mean OD)</text>
<rect x="86.40" y="506.60" width="2.80" height="2.80" fill="#000" stroke="#000" stroke-width="0.6"/>
<text x="91.00" y="510.30" font-size="6.4" text-anchor="start" font-weight="bold" fill="#000" stroke="#000" stroke-width="0.3">T-shNT</text>
<rect x="86.40" y="517.35" width="2.80" height="2.80" fill="#f7f7f7" stroke="#969696" stroke-width="0.6"/>
<text x="91.00" y="521.05" font-size="6.4" text-anchor="start" font-weight="bold" fill="#000" stroke="#000" stroke-width="0.3">T-shFA</text>
<text x="137.80" y="609.80" font-size="6.4" text-anchor="middle" font-weight="bold" fill="#000" stroke="#000" stroke-width="0.3">R848(uM)</text>
</g>
<g id="panel-F">
<text x="282.20" y="438.80" font-size="14" text-anchor="start" font-weight="normal" fill="#000" stroke="#000" stroke-width="0.6">F</text>
<line x1="302.98" y1="557.95" x2="302.98" y2="556.56" stroke="#444" stroke-width="0.85"/>
<line x1="302.08" y1="556.56" x2="303.88" y2="556.56" stroke="#444" stroke-width="0.8"/>
<rect x="295.03" y="557.95" width="15.90" height="31.55" fill="#000"/>
<line x1="318.88" y1="553.08" x2="318.88" y2="548.91" stroke="#444" stroke-width="0.85"/>
<line x1="317.98" y1="548.91" x2="319.77" y2="548.91" stroke="#444" stroke-width="0.8"/>
<rect x="311.32" y="553.08" width="15.10" height="36.42" fill="#fff" stroke="#666" stroke-width="0.75"/>
<text x="310.62" y="598.80" font-size="6" text-anchor="middle" font-weight="bold" fill="#000" stroke="#000" stroke-width="0.22">DMSO</text>
<line x1="339.23" y1="554.75" x2="339.23" y2="551.27" stroke="#444" stroke-width="0.85"/>
<line x1="338.33" y1="551.27" x2="340.12" y2="551.27" stroke="#444" stroke-width="0.8"/>
<rect x="331.28" y="554.75" width="15.90" height="34.75" fill="#000"/>
<line x1="355.12" y1="552.25" x2="355.12" y2="548.36" stroke="#444" stroke-width="0.85"/>
<line x1="354.23" y1="548.36" x2="356.02" y2="548.36" stroke="#444" stroke-width="0.8"/>
<rect x="347.57" y="552.25" width="15.10" height="37.25" fill="#fff" stroke="#666" stroke-width="0.75"/>
<text x="346.88" y="598.80" font-size="6" text-anchor="middle" font-weight="bold" fill="#000" stroke="#000" stroke-width="0.22">BIRB796</text>
<line x1="375.48" y1="554.05" x2="375.48" y2="552.11" stroke="#444" stroke-width="0.85"/>
<line x1="374.58" y1="552.11" x2="376.38" y2="552.11" stroke="#444" stroke-width="0.8"/>
<rect x="367.53" y="554.05" width="15.90" height="35.45" fill="#000"/>
<line x1="391.38" y1="553.36" x2="391.38" y2="551.00" stroke="#444" stroke-width="0.85"/>
<line x1="390.48" y1="551.00" x2="392.27" y2="551.00" stroke="#444" stroke-width="0.8"/>
<rect x="383.82" y="553.36" width="15.10" height="36.14" fill="#fff" stroke="#666" stroke-width="0.75"/>
<text x="383.12" y="598.80" font-size="6" text-anchor="middle" font-weight="bold" fill="#000" stroke="#000" stroke-width="0.22">Dasatinib</text>
<line x1="411.73" y1="540.43" x2="411.73" y2="536.26" stroke="#444" stroke-width="0.85"/>
<line x1="410.83" y1="536.26" x2="412.62" y2="536.26" stroke="#444" stroke-width="0.8"/>
<rect x="403.78" y="540.43" width="15.90" height="49.07" fill="#000"/>
<line x1="427.62" y1="496.37" x2="427.62" y2="488.03" stroke="#444" stroke-width="0.85"/>
<line x1="426.73" y1="488.03" x2="428.52" y2="488.03" stroke="#444" stroke-width="0.8"/>
<rect x="420.07" y="496.37" width="15.10" height="93.13" fill="#fff" stroke="#666" stroke-width="0.75"/>
<text x="419.38" y="598.80" font-size="6" text-anchor="middle" font-weight="bold" fill="#000" stroke="#000" stroke-width="0.22">R848</text>
<line x1="447.98" y1="551.55" x2="447.98" y2="549.88" stroke="#444" stroke-width="0.85"/>
<line x1="447.08" y1="549.88" x2="448.88" y2="549.88" stroke="#444" stroke-width="0.8"/>
<rect x="440.03" y="551.55" width="15.90" height="37.95" fill="#000"/>
<line x1="463.88" y1="543.21" x2="463.88" y2="539.32" stroke="#444" stroke-width="0.85"/>
<line x1="462.98" y1="539.32" x2="464.77" y2="539.32" stroke="#444" stroke-width="0.8"/>
<rect x="456.32" y="543.21" width="15.10" height="46.29" fill="#fff" stroke="#666" stroke-width="0.75"/>
<text x="455.62" y="598.80" font-size="6" text-anchor="middle" font-weight="bold" fill="#000" stroke="#000" stroke-width="0.22">R848 +</text>
<text x="455.62" y="605.70" font-size="6" text-anchor="middle" font-weight="bold" fill="#000" stroke="#000" stroke-width="0.22">BIRB796</text>
<line x1="484.23" y1="551.27" x2="484.23" y2="549.19" stroke="#444" stroke-width="0.85"/>
<line x1="483.33" y1="549.19" x2="485.12" y2="549.19" stroke="#444" stroke-width="0.8"/>
<rect x="476.28" y="551.27" width="15.90" height="38.23" fill="#000"/>
<line x1="500.12" y1="543.35" x2="500.12" y2="541.27" stroke="#444" stroke-width="0.85"/>
<line x1="499.23" y1="541.27" x2="501.02" y2="541.27" stroke="#444" stroke-width="0.8"/>
<rect x="492.57" y="543.35" width="15.10" height="46.15" fill="#fff" stroke="#666" stroke-width="0.75"/>
<text x="491.88" y="598.80" font-size="6" text-anchor="middle" font-weight="bold" fill="#000" stroke="#000" stroke-width="0.22">R848 +</text>
<text x="491.88" y="605.70" font-size="6" text-anchor="middle" font-weight="bold" fill="#000" stroke="#000" stroke-width="0.22">Dasatinib</text>
<line x1="292.50" y1="450.50" x2="292.50" y2="590.00" stroke="#555" stroke-width="0.8"/>
<line x1="290.50" y1="589.50" x2="510.00" y2="589.50" stroke="#555" stroke-width="0.8"/>
<line x1="292.50" y1="589.50" x2="292.50" y2="591.50" stroke="#555" stroke-width="0.8"/>
<line x1="328.75" y1="589.50" x2="328.75" y2="591.50" stroke="#555" stroke-width="0.8"/>
<line x1="365.00" y1="589.50" x2="365.00" y2="591.50" stroke="#555" stroke-width="0.8"/>
<line x1="401.25" y1="589.50" x2="401.25" y2="591.50" stroke="#555" stroke-width="0.8"/>
<line x1="437.50" y1="589.50" x2="437.50" y2="591.50" stroke="#555" stroke-width="0.8"/>
<line x1="473.75" y1="589.50" x2="473.75" y2="591.50" stroke="#555" stroke-width="0.8"/>
<line x1="510.00" y1="589.50" x2="510.00" y2="591.50" stroke="#555" stroke-width="0.8"/>
<line x1="290.50" y1="589.50" x2="292.50" y2="589.50" stroke="#555" stroke-width="0.8"/>
<text x="287.00" y="591.66" font-size="6" text-anchor="end" font-weight="bold" fill="#000" stroke="#000" stroke-width="0.22">0</text>
<line x1="290.50" y1="561.70" x2="292.50" y2="561.70" stroke="#555" stroke-width="0.8"/>
<text x="287.00" y="563.86" font-size="6" text-anchor="end" font-weight="bold" fill="#000" stroke="#000" stroke-width="0.22">0.2</text>
<line x1="290.50" y1="533.90" x2="292.50" y2="533.90" stroke="#555" stroke-width="0.8"/>
<text x="287.00" y="536.06" font-size="6" text-anchor="end" font-weight="bold" fill="#000" stroke="#000" stroke-width="0.22">0.4</text>
<line x1="290.50" y1="506.10" x2="292.50" y2="506.10" stroke="#555" stroke-width="0.8"/>
<text x="287.00" y="508.26" font-size="6" text-anchor="end" font-weight="bold" fill="#000" stroke="#000" stroke-width="0.22">0.6</text>
<line x1="290.50" y1="478.30" x2="292.50" y2="478.30" stroke="#555" stroke-width="0.8"/>
<text x="287.00" y="480.46" font-size="6" text-anchor="end" font-weight="bold" fill="#000" stroke="#000" stroke-width="0.22">0.8</text>
<line x1="290.50" y1="450.50" x2="292.50" y2="450.50" stroke="#555" stroke-width="0.8"/>
<text x="287.00" y="452.66" font-size="6" text-anchor="end" font-weight="bold" fill="#000" stroke="#000" stroke-width="0.22">1</text>
<text x="273.30" y="514.60" font-size="6" text-anchor="middle" font-weight="bold" fill="#000" stroke="#000" stroke-width="0.22" transform="rotate(-90 273.30 514.60)">SEAP (mean OD)</text>
<rect x="329.75" y="467.25" width="2.50" height="2.50" fill="#000" stroke="#000" stroke-width="0.6"/>
<text x="334.05" y="470.80" font-size="6.4" text-anchor="start" font-weight="bold" fill="#000" stroke="#000" stroke-width="0.22">T-shNT</text>
<rect x="329.75" y="479.25" width="2.50" height="2.50" fill="#fff" stroke="#666" stroke-width="0.6"/>
<text x="334.05" y="482.80" font-size="6.4" text-anchor="start" font-weight="bold" fill="#000" stroke="#000" stroke-width="0.22">T-shFA</text>
<polyline points="429.50,465.00 429.50,458.00 501.25,458.00 501.25,531.25" fill="none" stroke="#333" stroke-width="1.25" stroke-linejoin="round"/>
<text x="468.60" y="453.91" font-size="6" text-anchor="middle" font-weight="bold" fill="#000" stroke="#000" stroke-width="0.22">p &lt; 0.05</text>
<polyline points="428.25,483.75 428.25,471.75 464.25,471.75 464.25,534.25" fill="none" stroke="#333" stroke-width="1.25" stroke-linejoin="round"/>
<text x="446.90" y="478.91" font-size="6" text-anchor="middle" font-weight="bold" fill="#000" stroke="#000" stroke-width="0.22">p &lt; 0.05</text>
</g>
<g id="panel-G">
<text x="21.00" y="638.20" font-size="14" text-anchor="start" font-weight="normal" fill="#000" stroke="#000" stroke-width="0.6">G</text>
<text x="52.02" y="785.00" font-size="5.8" text-anchor="middle" font-weight="bold" fill="#000" stroke="#000" stroke-width="0.22">untreated</text>
<text x="87.56" y="785.00" font-size="5.8" text-anchor="middle" font-weight="bold" fill="#000" stroke="#000" stroke-width="0.22">BIRB796</text>
<text x="123.10" y="785.00" font-size="5.8" text-anchor="middle" font-weight="bold" fill="#000" stroke="#000" stroke-width="0.22">Dasatinib</text>
<line x1="153.40" y1="757.54" x2="153.40" y2="756.58" stroke="#808080" stroke-width="0.85"/>
<line x1="152.50" y1="756.58" x2="154.30" y2="756.58" stroke="#808080" stroke-width="0.8"/>
<rect x="148.15" y="757.54" width="10.50" height="19.21" fill="#000"/>
<line x1="163.90" y1="668.27" x2="163.90" y2="661.53" stroke="#808080" stroke-width="0.85"/>
<line x1="163.00" y1="661.53" x2="164.80" y2="661.53" stroke="#808080" stroke-width="0.8"/>
<rect x="159.05" y="668.27" width="9.70" height="108.48" fill="#fff" stroke="#808080" stroke-width="0.75"/>
<text x="158.65" y="785.00" font-size="5.8" text-anchor="middle" font-weight="bold" fill="#000" stroke="#000" stroke-width="0.22">R848</text>
<rect x="194.59" y="765.49" width="9.70" height="11.26" fill="#fff" stroke="#808080" stroke-width="0.75"/>
<text x="194.19" y="785.00" font-size="5.8" text-anchor="middle" font-weight="bold" fill="#000" stroke="#000" stroke-width="0.22">R848 +</text>
<text x="194.19" y="791.90" font-size="5.8" text-anchor="middle" font-weight="bold" fill="#000" stroke="#000" stroke-width="0.22">BIRB796</text>
<line x1="234.98" y1="767.52" x2="234.98" y2="764.53" stroke="#808080" stroke-width="0.85"/>
<line x1="234.08" y1="764.53" x2="235.88" y2="764.53" stroke="#808080" stroke-width="0.8"/>
<rect x="230.13" y="767.52" width="9.70" height="9.23" fill="#fff" stroke="#808080" stroke-width="0.75"/>
<text x="229.73" y="785.00" font-size="5.8" text-anchor="middle" font-weight="bold" fill="#000" stroke="#000" stroke-width="0.22">R848 +</text>
<text x="229.73" y="791.90" font-size="5.8" text-anchor="middle" font-weight="bold" fill="#000" stroke="#000" stroke-width="0.22">Dasatinib</text>
<line x1="34.25" y1="649.50" x2="34.25" y2="777.25" stroke="#999" stroke-width="0.8"/>
<line x1="32.25" y1="776.75" x2="247.50" y2="776.75" stroke="#999" stroke-width="0.8"/>
<line x1="34.25" y1="776.75" x2="34.25" y2="778.75" stroke="#999" stroke-width="0.8"/>
<line x1="69.79" y1="776.75" x2="69.79" y2="778.75" stroke="#999" stroke-width="0.8"/>
<line x1="105.33" y1="776.75" x2="105.33" y2="778.75" stroke="#999" stroke-width="0.8"/>
<line x1="140.88" y1="776.75" x2="140.88" y2="778.75" stroke="#999" stroke-width="0.8"/>
<line x1="176.42" y1="776.75" x2="176.42" y2="778.75" stroke="#999" stroke-width="0.8"/>
<line x1="211.96" y1="776.75" x2="211.96" y2="778.75" stroke="#999" stroke-width="0.8"/>
<line x1="247.50" y1="776.75" x2="247.50" y2="778.75" stroke="#999" stroke-width="0.8"/>
<line x1="32.25" y1="776.75" x2="34.25" y2="776.75" stroke="#999" stroke-width="0.8"/>
<text x="29.95" y="778.84" font-size="5.8" text-anchor="end" font-weight="bold" fill="#000" stroke="#000" stroke-width="0.22">0</text>
<line x1="32.25" y1="764.02" x2="34.25" y2="764.02" stroke="#999" stroke-width="0.8"/>
<text x="29.95" y="766.11" font-size="5.8" text-anchor="end" font-weight="bold" fill="#000" stroke="#000" stroke-width="0.22">200</text>
<line x1="32.25" y1="751.30" x2="34.25" y2="751.30" stroke="#999" stroke-width="0.8"/>
<text x="29.95" y="753.39" font-size="5.8" text-anchor="end" font-weight="bold" fill="#000" stroke="#000" stroke-width="0.22">400</text>
<line x1="32.25" y1="738.58" x2="34.25" y2="738.58" stroke="#999" stroke-width="0.8"/>
<text x="29.95" y="740.66" font-size="5.8" text-anchor="end" font-weight="bold" fill="#000" stroke="#000" stroke-width="0.22">600</text>
<line x1="32.25" y1="725.85" x2="34.25" y2="725.85" stroke="#999" stroke-width="0.8"/>
<text x="29.95" y="727.94" font-size="5.8" text-anchor="end" font-weight="bold" fill="#000" stroke="#000" stroke-width="0.22">800</text>
<line x1="32.25" y1="713.12" x2="34.25" y2="713.12" stroke="#999" stroke-width="0.8"/>
<text x="29.95" y="715.21" font-size="5.8" text-anchor="end" font-weight="bold" fill="#000" stroke="#000" stroke-width="0.22">1000</text>
<line x1="32.25" y1="700.40" x2="34.25" y2="700.40" stroke="#999" stroke-width="0.8"/>
<text x="29.95" y="702.49" font-size="5.8" text-anchor="end" font-weight="bold" fill="#000" stroke="#000" stroke-width="0.22">1200</text>
<line x1="32.25" y1="687.67" x2="34.25" y2="687.67" stroke="#999" stroke-width="0.8"/>
<text x="29.95" y="689.76" font-size="5.8" text-anchor="end" font-weight="bold" fill="#000" stroke="#000" stroke-width="0.22">1400</text>
<line x1="32.25" y1="674.95" x2="34.25" y2="674.95" stroke="#999" stroke-width="0.8"/>
<text x="29.95" y="677.04" font-size="5.8" text-anchor="end" font-weight="bold" fill="#000" stroke="#000" stroke-width="0.22">1600</text>
<line x1="32.25" y1="662.23" x2="34.25" y2="662.23" stroke="#999" stroke-width="0.8"/>
<text x="29.95" y="664.31" font-size="5.8" text-anchor="end" font-weight="bold" fill="#000" stroke="#000" stroke-width="0.22">1800</text>
<line x1="32.25" y1="649.50" x2="34.25" y2="649.50" stroke="#999" stroke-width="0.8"/>
<text x="29.95" y="651.59" font-size="5.8" text-anchor="end" font-weight="bold" fill="#000" stroke="#000" stroke-width="0.22">2000</text>
<text x="8.30" y="708.80" font-size="5.9" text-anchor="middle" font-weight="bold" fill="#000" stroke="#000" stroke-width="0.22" transform="rotate(-90 8.30 708.80)">TNFα (pg/ml)</text>
<rect x="80.10" y="672.90" width="2.80" height="2.80" fill="#000" stroke="#000" stroke-width="0.6"/>
<text x="84.70" y="676.57" font-size="6.3" text-anchor="start" font-weight="bold" fill="#000" stroke="#000" stroke-width="0.22">T-shNT</text>
<rect x="80.10" y="682.30" width="2.80" height="2.80" fill="#fff" stroke="#808080" stroke-width="0.6"/>
<text x="84.70" y="685.97" font-size="6.3" text-anchor="start" font-weight="bold" fill="#000" stroke="#000" stroke-width="0.22">T-shFA</text>
<text x="47.50" y="773.33" font-size="5.5" text-anchor="middle" font-weight="bold" fill="#000" stroke="#000" stroke-width="0.22">*</text>
<text x="58.00" y="773.33" font-size="5.5" text-anchor="middle" font-weight="bold" fill="#000" stroke="#000" stroke-width="0.22">*</text>
<text x="82.50" y="773.33" font-size="5.5" text-anchor="middle" font-weight="bold" fill="#000" stroke="#000" stroke-width="0.22">*</text>
<text x="93.25" y="773.33" font-size="5.5" text-anchor="middle" font-weight="bold" fill="#000" stroke="#000" stroke-width="0.22">*</text>
<text x="117.50" y="773.33" font-size="5.5" text-anchor="middle" font-weight="bold" fill="#000" stroke="#000" stroke-width="0.22">*</text>
<text x="128.25" y="773.33" font-size="5.5" text-anchor="middle" font-weight="bold" fill="#000" stroke="#000" stroke-width="0.22">*</text>
<text x="188.75" y="773.33" font-size="5.5" text-anchor="middle" font-weight="bold" fill="#000" stroke="#000" stroke-width="0.22">*</text>
<text x="224.50" y="773.33" font-size="5.5" text-anchor="middle" font-weight="bold" fill="#000" stroke="#000" stroke-width="0.22">*</text>
<text x="79.50" y="796.39" font-size="5.8" text-anchor="middle" font-weight="bold" fill="#000" stroke="#000" stroke-width="0.22">* Undetectable</text>
</g>
</svg></body></html>
